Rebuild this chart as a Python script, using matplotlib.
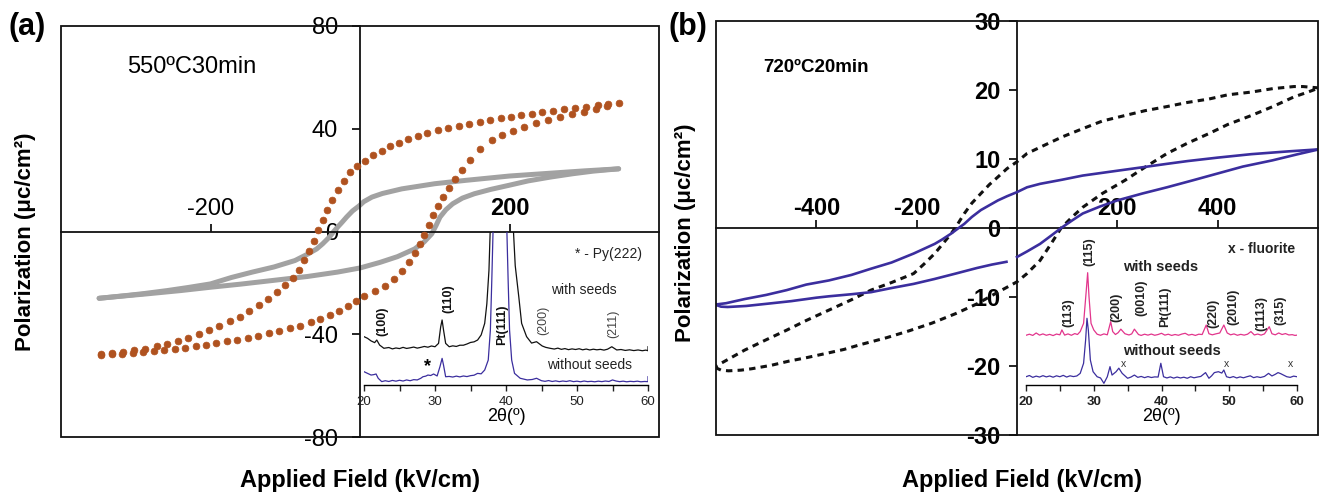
import matplotlib
matplotlib.use('Agg')
import matplotlib.pyplot as plt
from matplotlib.patches import Rectangle
from matplotlib.ticker import MultipleLocator

plt.rcParams['font.family'] = ['Liberation Sans', 'DejaVu Sans']

# ---------------- data ----------------
# (a) 550 C 30 min, with seeds (dotted) - upper branch (field decreasing)
a_dots_upper = [(346,50),(332,49.6),(318,49.1),(303,48.6),(288,48.1),(273,47.6),(258,47.1),(244,46.5),
    (230,45.9),(216,45.3),(202,44.7),(188,44),(174,43.3),(160,42.6),(146,41.9),(132,41.1),(118,40.3),
    (104,39.4),(90,38.4),(77,37.3),(64,36),(52,34.6),(40,33.1),(29,31.5),(18,29.6),(7,27.6),(-4,25.5),
    (-13,23),(-22,19.7),(-30,16.1),(-37,12.3),(-44,8.4),(-50,4.4),(-56,0.4),(-62,-3.6),(-68,-7.4),
    (-75,-11.2),(-82,-14.8),(-90,-18),(-100,-21),(-111,-23.7),(-123,-26.3),(-135,-28.7),(-148,-31),
    (-161,-33.1),(-174,-35),(-188,-36.8),(-202,-38.5),(-216,-40),(-230,-41.4),(-244,-42.6),
    (-258,-43.7),(-272,-44.7),(-287,-45.6),(-302,-46.3),(-317,-46.9),(-332,-47.4),(-346,-47.8)]
# lower branch (field increasing)
a_dots_lower = [(-346,-48),(-332,-47.8),(-318,-47.5),(-304,-47.2),(-290,-46.9),(-276,-46.5),(-262,-46.1),
    (-248,-45.7),(-234,-45.2),(-220,-44.7),(-206,-44.1),(-192,-43.5),(-178,-42.8),(-164,-42.1),
    (-150,-41.3),(-136,-40.5),(-122,-39.6),(-108,-38.7),(-94,-37.7),(-80,-36.6),(-66,-35.4),(-53,-34),
    (-40,-32.5),(-28,-30.9),(-16,-29.1),(-5,-27.1),(6,-25),(20,-23.3),(34,-21.2),(46,-18.4),(56,-15.3),
    (65,-12),(73,-8.5),(80,-4.9),(86,-1.2),(92,2.6),(98,6.4),(104,10.1),(111,13.6),(119,17),
    (127,20.3),(136,23.8),(147,27.7),(161,32.2),(176,35.5),(190,37.5),(205,39.3),(220,40.8),
    (236,42.2),(252,43.4),(268,44.5),(284,45.6),(300,46.7),(316,47.8),(331,48.9)]
# without seeds (grey line)
a_grey_upper = [(346,24.4),(300,23.6),(255,22.7),(200,21.6),(141,19.9),(100,18.6),(56,16.6),(30,14.8),
    (16,13.4),(5,11.6),(-1,10),(-10,8),(-18,5.6),(-24,3.6),(-30,1.7),(-36,-0.3),(-41,-2.2),(-50,-4.8),
    (-58,-6.8),(-70,-8.8),(-87,-11.3),(-115,-13.8),(-144,-15.8),(-172,-17.9),(-200,-20.4),(-230,-21.8),
    (-258,-23),(-290,-24.2),(-315,-25),(-349,-26)]
a_grey_lower = [(-349,-26),(-320,-25.2),(-286,-24.3),(-240,-23),(-200,-21.7),(-160,-20.5),(-115,-19),
    (-70,-17.5),(-30,-15.8),(0,-14.2),(27,-12),(50,-9.8),(73,-6.8),(86,-4),(96,-0.9),(102,2.5),(107,5.6),
    (115,8.5),(124,10.8),(137,13),(153,14.7),(175,16.4),(198,17.9),(225,19.7),(255,21.2),(285,22.5),
    (312,23.5),(346,24.4)]

# (b) 720 C 20 min - blue solid
b_blue_upper = [(602,11.4),(540,11.1),(467,10.7),(400,10.2),(340,9.7),(299,9.3),(250,8.8),(200,8.3),
    (131,7.6),(90,7),(46,6.4),(20,5.9),(0,5.2),(-20,4.6),(-38,4.0),(-55,3.3),(-72,2.6),(-90,1.6),
    (-105,0.6),(-120,-0.2),(-131,-0.8),(-150,-1.7),(-164,-2.3),(-185,-3),(-206,-3.7),(-250,-5),
    (-291,-5.9),(-330,-6.8),(-375,-7.6),(-420,-8.2),(-459,-9.0),(-500,-9.7),(-543,-10.3),(-580,-10.9),
    (-602,-11.1)]
b_blue_lower_left = [(-602,-11.1),(-590,-11.4),(-577,-11.45),(-540,-11.3),(-501,-11),(-450,-10.6),
    (-400,-10.1),(-375,-9.9),(-330,-9.6),(-291,-9.3),(-250,-8.7),(-206,-8.1),(-165,-7.4),(-122,-6.6),
    (-80,-5.8),(-50,-5.3),(-21,-4.9)]
b_blue_lower_right = [(0,-4.2),(20,-3.4),(46,-2.3),(70,-1),(88,0),(110,1.1),(131,2.1),(165,3.1),
    (200,4),(250,5),(299,5.9),(350,6.9),(400,7.9),(450,8.9),(509,9.8),(560,10.7),(602,11.4)]
# black dashed
b_dash_upper = [(602,20.3),(570,20.5),(552,20.5),(510,20.2),(467,19.7),(420,19.3),(383,18.7),(340,18.2),
    (299,17.6),(255,17),(215,16.3),(170,15.5),(131,14.4),(90,13.2),(46,11.7),(20,10.8),(0,9.6),
    (-20,8.6),(-38,7.4),(-55,6.3),(-72,5),(-90,3.6),(-105,2.1),(-118,0.6),(-131,-0.8),(-148,-2.3),
    (-164,-3.7),(-185,-5.2),(-206,-6.6),(-250,-7.9),(-291,-9),(-330,-10.4),(-375,-11.9),(-420,-13.4),
    (-459,-14.8),(-500,-16.2),(-543,-17.7),(-575,-19),(-602,-20.1)]
b_dash_lower = [(-602,-20.2),(-590,-20.6),(-575,-20.7),(-550,-20.6),(-529,-20.4),(-490,-19.9),
    (-455,-19.3),(-420,-18.8),(-382,-18.2),(-345,-17.6),(-312,-16.9),(-260,-15.9),(-215,-14.9),
    (-170,-13.8),(-122,-12.4),(-80,-11),(-38,-9.3),(0,-7.8),(20,-6.6),(46,-4.7),(66,-2.5),(88,0),
    (110,1.6),(131,3),(170,5),(215,6.9),(255,8.8),(299,10.8),(340,12.3),(383,13.7),(420,15),(467,16.3),
    (510,17.6),(552,19),(580,19.7),(602,20.3)]

# XRD insets (2theta, intensity a.u.)
xrd_a_with = [(20,31.6),(20.5,30.5),(21,28.8),(21.5,27.7),(21.8,29.4),(22.2,26.1),(22.8,24),(23.5,24.5),
    (24,23.6),(24.5,24.2),(25,23.8),(25.5,24.6),(26,23.9),(26.5,24.3),(27,24.8),(27.5,24.1),(28,24.6),
    (28.5,25.2),(29,24.7),(29.5,25.5),(30,25),(30.5,27.2),(30.8,38),(31.0,42.5),(31.2,36),(31.5,27.2),
    (32,25),(32.5,25.6),(33,25.2),(33.5,26),(34,26),(34.5,26.8),(35,27.8),(35.5,28.2),(36,29.4),
    (36.5,32.7),(37,40.3),(37.3,53),(37.6,75),(37.8,105),(38.0,200),(39.5,400),(40.8,200),(41.0,105),
    (41.3,78),(41.8,57.7),(42.2,40.3),(42.9,31.6),(43.6,27.4),(44.3,28.3),(45.1,25.5),(45.6,24.6),
    (46.2,24),(46.8,23.5),(47.3,24.1),(47.8,23.3),(48.3,23.8),(48.8,23.1),(49.3,23.6),(49.8,23.2),
    (50.3,23.7),(50.8,23),(51.3,23.5),(51.8,22.9),(52.3,23.4),(52.8,23),(53.3,23.3),(53.8,22.8),
    (54.3,23.4),(54.9,25),(55.6,22.9),(56.2,23.2),(56.8,22.6),(57.4,23),(58,22.5),(58.6,22.9),
    (59.2,22.4),(59.7,22.8),(60,22.4),(60,25)]
xrd_a_without = [(20,8.7),(20.5,7.6),(21,6.5),(21.4,6.8),(21.7,7.2),(22,4.4),(22.5,2.2),(23,2.8),
    (23.5,2.3),(24,3),(24.5,2.5),(25,3.1),(25.5,2.6),(26,3.3),(26.5,2.8),(27,3.5),(27.5,3.3),(28,4.4),
    (28.3,5.4),(28.7,5.8),(29,6.5),(29.4,6.2),(29.8,7.2),(30.3,5.9),(30.7,12),(31.0,17.4),(31.2,13),
    (31.5,5.4),(32,5.6),(32.5,5.2),(33,5.8),(33.5,5.3),(34,5.9),(34.5,5.5),(35,6.1),(35.5,6.4),(36,7.6),
    (36.5,7.3),(37,9.8),(37.5,16.3),(37.8,36),(38.0,68.6),(38.2,105),(39.2,300),(40.1,105),(40.3,68.6),
    (40.5,36),(40.8,16.3),(41.2,7.6),(42,4.4),(43,3.3),(43.7,3.6),(44.3,4.4),(45,2.8),(45.5,2.4),
    (46,2.9),(46.5,2.3),(47,2.7),(47.5,2.2),(48,2.6),(48.5,2.3),(49,2.8),(49.5,2.2),(50,2.5),(50.5,2.1),
    (51,2.6),(51.5,2.2),(52,2.4),(52.5,2.1),(53,2.5),(53.5,2.2),(54,2.6),(54.5,2.3),(55,3.3),(55.5,2.6),
    (56,2.2),(56.5,2.5),(57,2.1),(57.5,2.4),(58,2.2),(58.5,2.5),(59,2.1),(59.5,2.3),(60,2.2),(60,5.4)]
xrd_b_with = [(20,32.5),(20.5,33.2),(21,32.4),(21.5,34),(22,32.6),(22.5,33.4),(23,32.5),(23.5,33.1),
    (24,32.3),(24.5,33.3),(25,32.8),(25.3,36),(25.7,32.6),(26.2,33.4),(26.7,32.5),(27.2,33.6),(27.6,33),
    (28,34.9),(28.5,40.3),(28.9,62),(29.1,73.4),(29.3,57.7),(29.6,40.3),(30,36),(30.5,33.2),(31,32.5),
    (31.5,33.4),(32,32.8),(32.5,41.4),(32.8,34.9),(33.2,33),(33.6,34.2),(34,36.5),(34.6,33.5),
    (35.2,32.7),(35.6,33.4),(36,36.5),(36.6,33),(37,32.4),(37.5,33.2),(38,32.6),(38.5,33.3),(39,32.5),
    (39.5,33),(40,33.8),(40.5,32.6),(41,33.2),(41.5,32.4),(42,33),(42.5,32.5),(43,33.3),(43.5,33.8),
    (44,32.6),(44.5,33.1),(45,32.4),(45.5,33.2),(46,33),(46.6,39.2),(47,33.5),(47.5,32.8),(48,33.4),
    (48.6,34),(49.2,39.2),(49.7,34),(50.2,32.8),(50.7,33.4),(51.2,32.5),(51.7,33.1),(52.2,32.6),
    (52.7,33.2),(53.2,34.9),(53.7,32.7),(54.2,33.3),(54.7,32.6),(55.2,33.4),(55.9,38.1),(56.3,33.5),
    (56.8,32.8),(57.3,34),(57.8,33),(58.3,33.6),(58.8,32.7),(59.3,32.9),(59.7,32.4),(60,32.6)]
xrd_b_without = [(20,5.4),(20.5,6.2),(21,5),(21.5,5.8),(22,5.2),(22.5,6.1),(23,5.3),(23.5,5.9),(24,5.1),
    (24.5,6),(25,5.4),(25.5,6.3),(26,5.2),(26.5,6),(27,5.5),(27.5,5.9),(28,7.6),(28.5,14.2),(28.8,29.4),
    (29,43.6),(29.2,36),(29.5,16.3),(29.9,8.7),(30.5,5.4),(31,4.6),(31.5,1.1),(32,5.4),(32.4,12),
    (32.7,6.5),(33.3,8.7),(33.7,11),(34.2,7.6),(35,4.4),(35.5,5.2),(36,6.5),(36.5,5),(37,5.6),(37.5,4.8),
    (38,5.5),(38.5,4.9),(39,5.3),(39.5,5.2),(39.9,14.2),(40.3,5.4),(40.8,4.6),(41.3,5.3),(41.8,4.5),
    (42.3,5.2),(42.8,4.6),(43.3,5.1),(43.8,4.4),(44.3,5.4),(44.8,4.7),(45.3,5.2),(45.8,5.6),(46.5,8.1),
    (47,4.4),(47.4,6),(47.8,8.1),(48.4,8.7),(48.9,7.8),(49.2,9.8),(49.6,5.4),(50.1,4.8),(50.6,5.5),
    (51.1,4.6),(51.6,5.3),(52.1,4.7),(52.6,5.4),(53.1,6),(53.6,4.8),(54.1,5.4),(54.6,4.9),(55.2,5.6),
    (55.8,7.6),(56.3,5.9),(56.8,7),(57.2,8.1),(57.6,7.4),(58,6.5),(58.5,5.4),(59,5),(59.5,5.8),(60,5.4)]

a_xticks = [-200, 200]
a_yticks = [80, 40, 0, -40, -80]
b_xticks = [-400, -200, 200, 400]
b_yticks = [30, 20, 10, 0, -10, -20, -30]
inset_ticks = [20, 30, 40, 50, 60]

a_peaks = ['(100)', '(110)', 'Pt(111)', '(200)', '(211)']
b_peaks = ['(113)', '(115)', '(200)', '(0010)', 'Pt(111)', '(220)', '(2010)', '(1113)', '(315)']

# ---------------- styling ----------------
BROWN = '#b0521f'
GREY = '#a2a2a2'
BLUE = '#3b2e9e'
PINK = '#e2358c'

W, H = 1320, 495
fig = plt.figure(figsize=(W / 100, H / 100), dpi=100)


def fx(px):
    return px / W


def fy(py):
    return 1 - py / H


def xy(pts):
    return [p[0] for p in pts], [p[1] for p in pts]


def setup_main(ax, xlim, ylim, xticks, yticks, tick_bold, ypad, xpad):
    ax.set_xlim(*xlim)
    ax.set_ylim(*ylim)
    ax.spines['left'].set_position(('data', 0))
    ax.spines['top'].set_position(('data', 0))
    ax.spines['right'].set_visible(False)
    ax.spines['bottom'].set_visible(False)
    for s in ('left', 'top'):
        ax.spines[s].set_linewidth(1.3)
        ax.spines[s].set_color('#111111')
    ax.xaxis.set_ticks_position('top')
    ax.yaxis.set_ticks_position('left')
    ax.set_xticks(xticks, labels=[str(t) for t in xticks])
    ax.set_yticks(yticks, labels=[str(t) for t in yticks])
    ax.tick_params(axis='x', direction='out', length=6, width=1.2, pad=xpad, labelsize=17)
    ax.tick_params(axis='y', direction='out', length=6, width=1.2, pad=ypad, labelsize=17)
    for lbl in ax.get_xticklabels() + ax.get_yticklabels():
        if tick_bold is True or lbl.get_text() in (tick_bold or []):
            lbl.set_fontweight('bold')
    ax.add_patch(Rectangle((0, 0), 1, 1, transform=ax.transAxes, fill=False,
                           lw=1.3, ec='#111111', clip_on=False, zorder=5))


def setup_inset(ax, bold):
    ax.set_xlim(20, 60)
    ax.set_ylim(0, 100)
    ax.set_facecolor('none')
    for s in ('left', 'right', 'top'):
        ax.spines[s].set_visible(False)
    ax.spines['bottom'].set_linewidth(1.0)
    ax.set_yticks([])
    ax.set_xticks(inset_ticks, labels=[str(t) for t in inset_ticks])
    ax.xaxis.set_minor_locator(MultipleLocator(5))
    ax.tick_params(axis='x', which='both', direction='out', length=4, width=1, pad=4,
                   labelsize=9.5, colors='#222222')
    if bold:
        for lbl in ax.get_xticklabels():
            lbl.set_fontweight('bold')
    ax.set_xlabel('2θ(º)', fontsize=13, labelpad=0)


# ---------------- panel (a) ----------------
axa = fig.add_axes([fx(61), fy(437), fx(659) - fx(61), fy(26) - fy(437)])
setup_main(axa, (-400, 400), (-80, 80), a_xticks, a_yticks, ['200'], ypad=10, xpad=2)
for br in (a_grey_upper, a_grey_lower):
    x, y = xy(br)
    axa.plot(x, y, color=GREY, lw=3.6, solid_capstyle='round', zorder=2)
for br in (a_dots_upper, a_dots_lower):
    x, y = xy(br)
    axa.plot(x, y, ls='none', marker='o', ms=4.9, mfc=BROWN, mec=BROWN, mew=0.5, zorder=3)

fig.text(fx(127), fy(67), '550ºC30min', fontsize=17, ha='left', va='center')
fig.text(fx(27), fy(27), '(a)', fontsize=22, fontweight='bold', ha='center', va='center')
fig.text(fx(26), fy(242), 'Polarization (μc/cm²)', fontsize=16, fontweight='bold',
         rotation=90, ha='center', va='center')
fig.text(fx(360), fy(481), 'Applied Field (kV/cm)', fontsize=17, fontweight='bold',
         ha='center', va='center')

ia = fig.add_axes([fx(364), fy(385), fx(648) - fx(364), fy(232) - fy(385)])
setup_inset(ia, bold=False)
x, y = xy(xrd_a_with)
ia.plot(x, y, color='#111111', lw=0.9)
x, y = xy(xrd_a_without)
ia.plot(x, y, color=BLUE, lw=0.9)
peak_pos_a = [(22.6, 41.4), (31.9, 56.7), (39.4, 39.2), (45.2, 42.5), (55.1, 40.3)]
for lab, (px, py), w in zip(a_peaks, peak_pos_a, ['bold', 'bold', 'bold', 'normal', 'normal']):
    ia.text(px, py, lab, rotation=90, fontsize=9, fontweight=w, ha='center', va='center',
            color='#111111' if w == 'bold' else '#444444')
ia.text(50.9, 62, 'with seeds', fontsize=10, ha='center', va='center', color='#222222')
ia.text(51.8, 13, 'without seeds', fontsize=10, ha='center', va='center', color='#222222')
ia.text(54.4, 85.6, '* - Py(222)', fontsize=10, ha='center', va='center', color='#222222')
ia.text(29.0, 12, '*', fontsize=13, fontweight='bold', ha='center', va='center')

# ---------------- panel (b) ----------------
axb = fig.add_axes([fx(716), fy(435), fx(1318) - fx(716), fy(21) - fy(435)])
setup_main(axb, (-600, 600), (-30, 30), b_xticks, b_yticks, True, ypad=6, xpad=0)
for br in (b_dash_upper, b_dash_lower):
    x, y = xy(br)
    axb.plot(x, y, color='#111111', lw=2.2, dashes=(2.1, 1.7), zorder=2)
for br in (b_blue_upper, b_blue_lower_left, b_blue_lower_right):
    x, y = xy(br)
    axb.plot(x, y, color=BLUE, lw=1.9, zorder=3)

fig.text(fx(763), fy(67), '720ºC20min', fontsize=13.5, fontweight='bold', ha='left', va='center')
fig.text(fx(688), fy(27), '(b)', fontsize=22, fontweight='bold', ha='center', va='center')
fig.text(fx(686), fy(233), 'Polarization (μc/cm²)', fontsize=16, fontweight='bold',
         rotation=90, ha='center', va='center')
fig.text(fx(1022), fy(481), 'Applied Field (kV/cm)', fontsize=17, fontweight='bold',
         ha='center', va='center')

ib = fig.add_axes([fx(1026), fy(385), fx(1297) - fx(1026), fy(232) - fy(385)])
setup_inset(ib, bold=True)
x, y = xy(xrd_b_with)
ib.plot(x, y, color=PINK, lw=0.9)
x, y = xy(xrd_b_without)
ib.plot(x, y, color=BLUE, lw=0.9)
peak_pos_b = [(26.2, 47), (29.4, 87), (33.3, 51), (37.0, 57), (40.6, 51), (47.6, 47), (50.6, 51),
              (54.8, 47), (57.6, 49)]
for lab, (px, py) in zip(b_peaks, peak_pos_b):
    ib.text(px, py, lab, rotation=90, fontsize=9, fontweight='bold', ha='center', va='center',
            color='#222222')
ib.text(54.8, 89, 'x - fluorite', fontsize=10, fontweight='bold', ha='center', va='center',
        color='#222222')
ib.text(39.8, 77, 'with seeds', fontsize=10.5, fontweight='bold', ha='center', va='center',
        color='#222222')
ib.text(41.5, 22, 'without seeds', fontsize=10.5, fontweight='bold', ha='center', va='center',
        color='#222222')
for px in (34.4, 49.6, 59.1):
    ib.text(px, 14, 'x', fontsize=7.5, ha='center', va='center', color='#333333')

fig.savefig('out.png', dpi=100)
